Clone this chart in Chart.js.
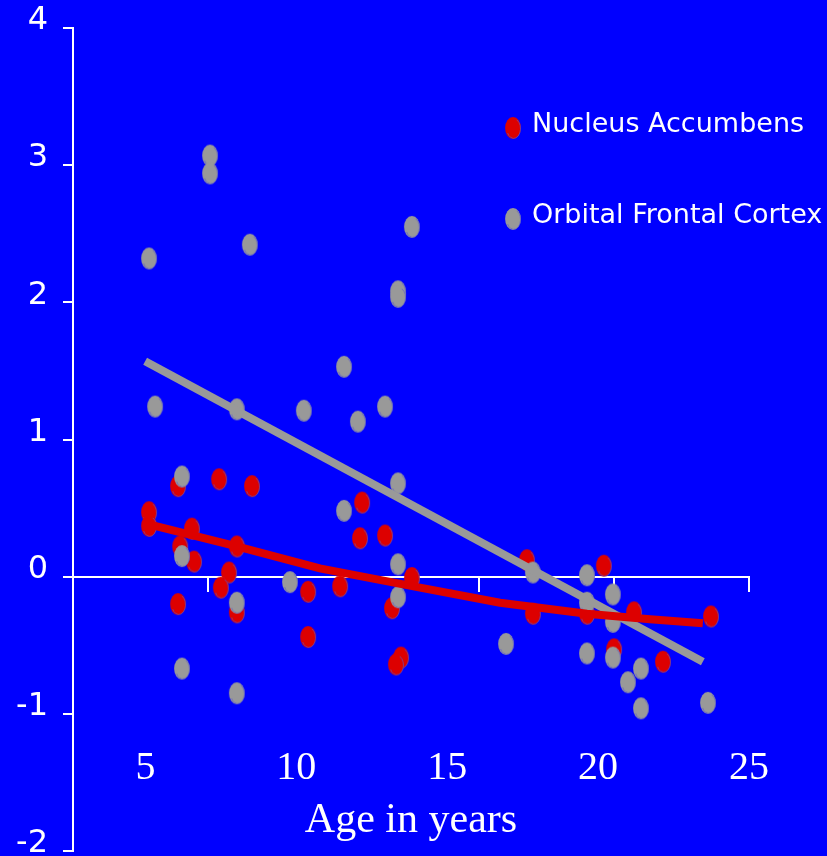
<!DOCTYPE html>
<html>
<head>
<meta charset="utf-8">
<script src="https://cdn.jsdelivr.net/npm/chart.js@4.4.1/dist/chart.umd.min.js"></script>
<style>
    html, body { margin: 0; padding: 0; background: #0000ff; }
    #wrap { width: 827px; height: 856px; position: relative; }
</style>
</head>
<body>
<div id="wrap"><canvas id="myChart"></canvas></div>
<script>
// Nucleus Accumbens (red dots)
const naAge = [6.08, 7.44, 8.53, 5.12, 5.12, 6.54, 12.18, 12.11, 12.94, 8.03, 6.15, 6.61, 7.77, 7.50, 6.08, 8.03,
    10.39, 11.45, 13.83, 13.17, 10.39, 13.47, 13.30, 17.64, 20.19, 17.84, 19.63, 21.19, 23.74, 20.53, 22.15];
const naVal = [0.66, 0.71, 0.66, 0.47, 0.37, 0.35, 0.54, 0.28, 0.30, 0.22, 0.22, 0.11, 0.03, -0.08, -0.20, -0.26,
    -0.11, -0.07, -0.01, -0.23, -0.44, -0.59, -0.64, 0.12, 0.08, -0.27, -0.27, -0.26, -0.29, -0.53, -0.62];

// Orbital Frontal Cortex (gray dots)
const ofcAge = [7.14, 7.14, 5.12, 8.46, 13.83, 13.37, 13.37, 11.58, 5.32, 8.03, 10.25, 12.04, 12.94, 6.21, 11.58,
    13.37, 6.21, 9.79, 8.03, 13.37, 13.37, 6.21, 8.03, 17.84, 19.63, 20.49, 19.63, 20.49, 16.95, 19.63, 20.49,
    21.42, 20.99, 21.42, 23.64];
const ofcVal = [3.07, 2.94, 2.32, 2.42, 2.55, 2.08, 2.04, 1.53, 1.24, 1.22, 1.21, 1.13, 1.24, 0.73, 0.48,
    0.68, 0.15, -0.04, -0.19, 0.09, -0.15, -0.67, -0.85, 0.03, 0.01, -0.13, -0.19, -0.33, -0.49, -0.56, -0.59,
    -0.67, -0.77, -0.96, -0.92];

// trend lines as drawn on the slide
const naFitAge = [5.15, 8.03, 10.78, 14.10, 16.75, 19.63, 21.72, 23.47];
const naFitVal = [0.38, 0.22, 0.06, -0.08, -0.19, -0.27, -0.31, -0.34];
const ofcFitAge = [4.99, 23.47];
const ofcFitVal = [1.57, -0.62];

const xTickLabels = [5, 10, 15, 20, 25];
const yTickLabels = [-2, -1, 0, 1, 2, 3, 4];

const RED = '#dd0000';
const GRAY = '#999999';

function pts(xs, ys) {
    return xs.map((x, i) => ({x: x, y: ys[i]}));
}

// the slide uses tall ovals, not circles
function makeDot(color) {
    const c = document.createElement('canvas');
    c.width = 18;
    c.height = 24;
    const g = c.getContext('2d');
    g.fillStyle = color;
    g.beginPath();
    g.ellipse(9, 12, 7.9, 10.9, 0, 0, Math.PI * 2);
    g.fill();
    g.strokeStyle = 'rgba(90,90,210,0.8)';
    g.lineWidth = 0.8;
    g.beginPath();
    g.ellipse(9.7, 12.6, 6.8, 9.8, 0, -Math.PI * 0.35, Math.PI * 0.85);
    g.stroke();
    return c;
}

// legend drawn inside the plot, two rows far apart
const ovalLegend = {
    id: 'ovalLegend',
    afterDraw(chart, args, opts) {
        const ctx = chart.ctx;
        ctx.save();
        ctx.font = opts.font;
        ctx.fillStyle = '#fff';
        ctx.textBaseline = 'alphabetic';
        chart.data.datasets.forEach(ds => {
            if (ds.legendRow === undefined) return;
            const y = opts.top + ds.legendRow * opts.rowGap;
            ctx.drawImage(ds.pointStyle, opts.left - 9, y - 12);
            ctx.fillText(ds.label, opts.left + 19, y + 4);
        });
        ctx.restore();
    }
};

const ctx = document.getElementById('myChart').getContext('2d');
const myChart = new Chart(ctx, {
    type: 'scatter',
    data: {
        datasets: [
            {
                label: 'Nucleus Accumbens',
                data: pts(naAge, naVal),
                pointStyle: makeDot(RED),
                legendRow: 0,
                order: 3
            },
            {
                label: 'Orbital Frontal Cortex',
                data: pts(ofcAge, ofcVal),
                pointStyle: makeDot(GRAY),
                legendRow: 1,
                order: 2
            },
            {
                label: 'NA fit',
                data: pts(naFitAge, naFitVal),
                showLine: true,
                borderColor: RED,
                borderWidth: 8,
                pointRadius: 0,
                order: 0
            },
            {
                label: 'OFC fit',
                data: pts(ofcFitAge, ofcFitVal),
                showLine: true,
                borderColor: GRAY,
                borderWidth: 8,
                pointRadius: 0,
                order: 1
            }
        ]
    },
    options: {
        responsive: true,
        maintainAspectRatio: false,
        animation: false,
        events: [],
        layout: {
            padding: {top: 28, right: 78, bottom: 5, left: 0}
        },
        scales: {
            x: {
                type: 'linear',
                min: 2.6,
                max: 25,
                position: {y: 0},
                afterBuildTicks: s => {
                    const step = (s.max - s.min) / 5;
                    s.ticks = [0, 1, 2, 3, 4, 5].map(i => ({value: s.min + i * step}));
                },
                border: {color: '#fff', width: 2},
                grid: {drawOnChartArea: false, drawTicks: true, tickLength: 14, color: '#fff', lineWidth: 2},
                ticks: {display: false}
            },
            x2: {
                type: 'linear',
                axis: 'x',
                min: 2.6,
                max: 25,
                position: {y: -1.2},
                afterBuildTicks: s => {
                    s.ticks = xTickLabels.map(v => ({value: v}));
                },
                border: {display: false},
                grid: {display: false, drawTicks: false},
                ticks: {
                    color: '#fff',
                    padding: 7,
                    font: {family: '"Liberation Serif", serif', size: 40, lineHeight: 1}
                },
                title: {
                    display: true,
                    text: 'Age in years',
                    color: '#fff',
                    padding: {top: 5, bottom: 0},
                    font: {family: '"Liberation Serif", serif', size: 42, lineHeight: 1}
                }
            },
            y: {
                type: 'linear',
                min: -2,
                max: 4,
                afterBuildTicks: s => {
                    s.ticks = yTickLabels.map(v => ({value: v}));
                },
                afterFit: s => {
                    s.width = 73;
                    s.paddingTop = 0;
                    s.paddingBottom = 0;
                },
                border: {color: '#fff', width: 2},
                grid: {drawOnChartArea: false, drawTicks: true, tickLength: 10, color: '#fff', lineWidth: 2},
                ticks: {
                    color: '#fff',
                    padding: 15,
                    labelOffset: -7,
                    font: {family: '"DejaVu Sans", sans-serif', size: 32}
                }
            }
        },
        plugins: {
            legend: {display: false},
            tooltip: {enabled: false},
            ovalLegend: {left: 513, top: 128, rowGap: 91, font: '27px "DejaVu Sans"'}
        }
    },
    plugins: [ovalLegend]
});
</script>
</body>
</html>
